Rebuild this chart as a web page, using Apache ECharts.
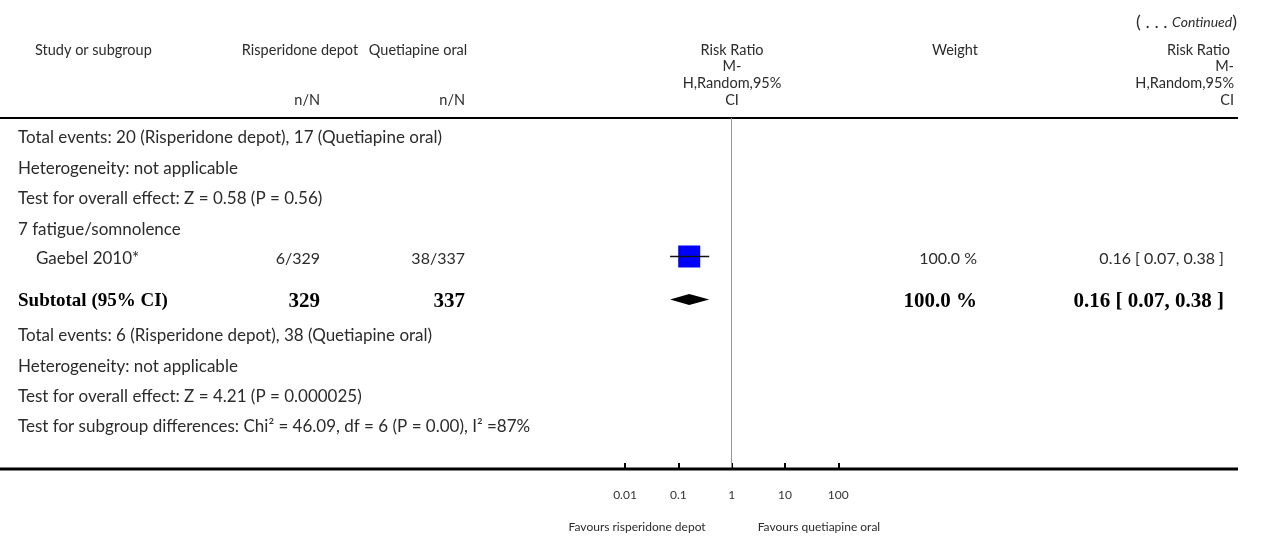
<!DOCTYPE html>
<html>
<head>
<meta charset="utf-8">
<script src="https://cdn.jsdelivr.net/npm/echarts@6/dist/echarts.min.js"></script>
<style>
html,body{margin:0;padding:0;background:#fff;}
#chart{width:1266px;height:538px;}
</style>
</head>
<body>
<div id="chart"></div>
<script>
// ---------------- DATA ----------------
const continuedPrefix = "( . . . ";
const continuedWord = "Continued";
const headerStudy = "Study or subgroup";
const headerGroups = ["Risperidone depot", "Quetiapine oral"];
const headerUnits = ["n/N", "n/N"];
const headerRR = ["Risk Ratio", "M-", "H,Random,95%", "CI"];
const headerWeight = "Weight";

const prevSummaryLines = [
  "Total events: 20 (Risperidone depot), 17 (Quetiapine oral)",
  "Heterogeneity: not applicable",
  "Test for overall effect: Z = 0.58 (P = 0.56)"
];
const subgroupName = "7 fatigue/somnolence";

const studyNames = ["Gaebel 2010*"];
const studyExp = ["6/329"];
const studyCtrl = ["38/337"];
const studyRR = [0.16];
const studyLow = [0.07];
const studyHigh = [0.38];
const studyWeight = [100.0];

const subtotalLabel = "Subtotal (95% CI)";
const subtotalTotals = [329, 337];
const subtotalRR = [0.16];
const subtotalLow = [0.07];
const subtotalHigh = [0.38];
const subtotalWeight = [100.0];

const summaryLines = [
  "Total events: 6 (Risperidone depot), 38 (Quetiapine oral)",
  "Heterogeneity: not applicable",
  "Test for overall effect: Z = 4.21 (P = 0.000025)",
  "Test for subgroup differences: Chi\u00B2 = 46.09, df = 6 (P = 0.00), I\u00B2 =87%"
];

const axisTicks = [0.01, 0.1, 1, 10, 100];
const favoursLabels = ["Favours risperidone depot", "Favours quetiapine oral"];

// ---------------- LAYOUT ----------------
const RULE_TOP = 118, AXIS_Y = 469, RULE_LEFT = 0, RULE_RIGHT = 1238;
const PLOT_LEFT = 625, PLOT_RIGHT = 838.3;
const TEXT_LEFT = 18, STUDY_INDENT = 36;
const COL_EXP_RIGHT = 320, COL_CTRL_RIGHT = 465;
const COL_W_RIGHT = 977, COL_RR_RIGHT = 1224;
// row offsets (px below the top rule)
const ROW_PREV = [20, 50.5, 81];
const ROW_SUBGROUP = 111.5;
const ROW_STUDY = [138.5];
const ROW_SUBTOTAL = 181.5;
const ROW_SUMMARY = [218, 249, 279, 309];

const FONT = "Lato, 'Open Sans', sans-serif";
const SERIF = "'Liberation Serif', 'DejaVu Serif', serif";
const TXT = '#2b2b2b';
const SENT = '17px ' + FONT;
const NUM = '16px ' + FONT;
const HEAD = '14.5px ' + FONT;
const BOLD = 'bold 19px ' + SERIF;
const BOLDNUM = 'bold 21px ' + SERIF;

function txt(text, x, y, align, font, fill) {
  return { type: 'text', x: x, y: y, silent: true,
    style: { text: text, font: font || SENT, fill: fill || TXT,
      textAlign: align || 'left', textVerticalAlign: 'middle' } };
}

const g = [];
// continued marker
g.push({ type: 'text', x: 1237, y: 22, silent: true,
  style: { text: '{p|' + continuedPrefix + '}{i|' + continuedWord + '}{p|)}',
    textAlign: 'right', textVerticalAlign: 'middle',
    rich: { p: { font: '18px ' + FONT, fill: TXT }, i: { font: 'italic 14px ' + FONT, fill: TXT } } } });
// header
const HY = [50, 66.5, 83, 100];
g.push(txt(headerStudy, 35, HY[0], 'left', HEAD));
g.push(txt(headerGroups[0], 300, HY[0], 'center', HEAD));
g.push(txt(headerGroups[1], 418, HY[0], 'center', HEAD));
g.push(txt(headerUnits[0], COL_EXP_RIGHT, HY[3], 'right', HEAD));
g.push(txt(headerUnits[1], COL_CTRL_RIGHT, HY[3], 'right', HEAD));
headerRR.forEach((t, i) => g.push(txt(t, 732, HY[i], 'center', HEAD)));
g.push(txt(headerWeight, 955, HY[0], 'center', HEAD));
headerRR.forEach((t, i) => g.push(txt(t, i === 0 ? 1230 : 1234, HY[i], 'right', HEAD)));
// rules
g.push({ type: 'line', silent: true, shape: { x1: RULE_LEFT, y1: RULE_TOP, x2: RULE_RIGHT, y2: RULE_TOP }, style: { stroke: '#000', lineWidth: 2 } });
g.push({ type: 'line', silent: true, z: 10, shape: { x1: RULE_LEFT, y1: AXIS_Y, x2: RULE_RIGHT, y2: AXIS_Y }, style: { stroke: '#000', lineWidth: 3 } });
// body text
prevSummaryLines.forEach((t, i) => g.push(txt(t, TEXT_LEFT, RULE_TOP + ROW_PREV[i], 'left')));
g.push(txt(subgroupName, TEXT_LEFT, RULE_TOP + ROW_SUBGROUP, 'left'));
studyNames.forEach((n, i) => {
  const y = RULE_TOP + ROW_STUDY[i] + 2;
  g.push(txt(n, STUDY_INDENT, y, 'left'));
  g.push(txt(studyExp[i], COL_EXP_RIGHT, y, 'right', NUM));
  g.push(txt(studyCtrl[i], COL_CTRL_RIGHT, y, 'right', NUM));
  g.push(txt(studyWeight[i].toFixed(1) + ' %', COL_W_RIGHT, y, 'right', NUM));
  g.push(txt(studyRR[i].toFixed(2) + ' [ ' + studyLow[i].toFixed(2) + ', ' + studyHigh[i].toFixed(2) + ' ]', COL_RR_RIGHT, y, 'right', NUM));
});
{
  const y = RULE_TOP + ROW_SUBTOTAL + 2;
  g.push(txt(subtotalLabel, TEXT_LEFT, y, 'left', BOLD, '#000'));
  g.push(txt(String(subtotalTotals[0]), COL_EXP_RIGHT, y, 'right', BOLDNUM, '#000'));
  g.push(txt(String(subtotalTotals[1]), COL_CTRL_RIGHT, y, 'right', BOLDNUM, '#000'));
  g.push(txt(subtotalWeight[0].toFixed(1) + ' %', COL_W_RIGHT, y, 'right', BOLDNUM, '#000'));
  g.push(txt(subtotalRR[0].toFixed(2) + ' [ ' + subtotalLow[0].toFixed(2) + ', ' + subtotalHigh[0].toFixed(2) + ' ]', COL_RR_RIGHT, y, 'right', BOLDNUM, '#000'));
}
summaryLines.forEach((t, i) => g.push(txt(t, TEXT_LEFT, RULE_TOP + ROW_SUMMARY[i], 'left')));

// ---------------- CHART ----------------
const chart = echarts.init(document.getElementById('chart'), null, { renderer: 'canvas' });
const SQUARE_MAX = 22, DIAMOND_HALF = 5.5;

const studyData = studyRR.map((v, i) => [v, studyLow[i], studyHigh[i], ROW_STUDY[i], studyWeight[i]]);
const subtotalData = subtotalRR.map((v, i) => [v, subtotalLow[i], subtotalHigh[i], ROW_SUBTOTAL]);

function nearestTick(v) {
  const r = Math.round(Math.log10(v));
  const t = axisTicks.find(a => Math.round(Math.log10(a)) === r);
  return t === undefined ? '' : String(t);
}

chart.setOption({
  animation: false,
  backgroundColor: '#fff',
  grid: { left: PLOT_LEFT, width: PLOT_RIGHT - PLOT_LEFT, top: RULE_TOP, height: AXIS_Y - RULE_TOP, containLabel: false },
  xAxis: {
    type: 'log', logBase: 10, min: axisTicks[0], max: axisTicks[axisTicks.length - 1],
    position: 'bottom',
    axisLine: { show: false, onZero: false },
    axisTick: { show: true, inside: true, length: 6, lineStyle: { color: '#000', width: 2 } },
    splitLine: { show: false },
    axisLabel: { show: true, margin: 20, fontSize: 12, fontFamily: FONT, color: '#333', formatter: nearestTick }
  },
  yAxis: { type: 'value', min: 0, max: AXIS_Y - RULE_TOP, inverse: true, show: false },
  graphic: { elements: g.concat([
    { type: 'text', x: PLOT_LEFT + (PLOT_RIGHT - PLOT_LEFT) / 2 - 26, y: 527, silent: true,
      style: { text: favoursLabels[0], font: '12px ' + FONT, fill: TXT, textAlign: 'right', textVerticalAlign: 'middle' } },
    { type: 'text', x: PLOT_LEFT + (PLOT_RIGHT - PLOT_LEFT) / 2 + 26, y: 527, silent: true,
      style: { text: favoursLabels[1], font: '12px ' + FONT, fill: TXT, textAlign: 'left', textVerticalAlign: 'middle' } }
  ]) },
  series: [
    {
      type: 'custom', name: 'study', data: studyData,
      encode: { x: 0, y: 3 },
      renderItem: function (params, api) {
        const y = api.value(3);
        const c = api.coord([api.value(0), y]);
        const l = api.coord([api.value(1), y]);
        const h = api.coord([api.value(2), y]);
        const s = SQUARE_MAX * Math.sqrt(api.value(4) / 100);
        return { type: 'group', children: [
          { type: 'rect', shape: { x: c[0] - s / 2, y: c[1] - s / 2, width: s, height: s }, style: { fill: '#0000ff' } },
          { type: 'line', shape: { x1: l[0], y1: l[1], x2: h[0], y2: h[1] }, style: { stroke: '#111', lineWidth: 1.5 } }
        ] };
      },
      markLine: {
        silent: true, symbol: 'none', label: { show: false },
        lineStyle: { color: '#999', width: 1, type: 'solid' },
        data: [{ xAxis: 1 }]
      },
      z: 5
    },
    {
      type: 'custom', name: 'subtotal', data: subtotalData,
      encode: { x: 0, y: 3 },
      renderItem: function (params, api) {
        const y = api.value(3);
        const c = api.coord([api.value(0), y]);
        const l = api.coord([api.value(1), y]);
        const h = api.coord([api.value(2), y]);
        return { type: 'polygon', shape: { points: [[l[0], c[1]], [c[0], c[1] - DIAMOND_HALF], [h[0], c[1]], [c[0], c[1] + DIAMOND_HALF]] }, style: { fill: '#000' } };
      },
      z: 5
    }
  ]
});
</script>
</body>
</html>
